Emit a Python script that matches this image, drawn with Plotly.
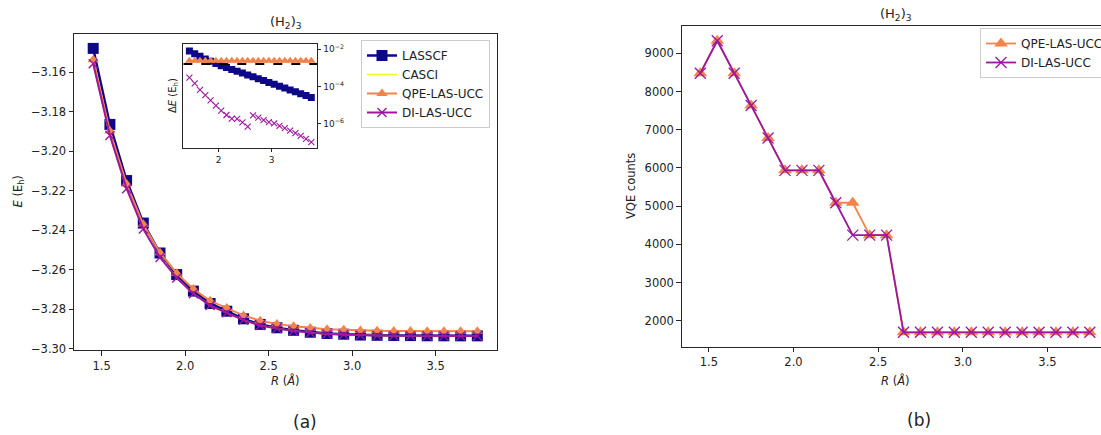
import numpy as np
import plotly.graph_objects as go

W, H = 1101, 435

# ---------------- data ----------------
R = [1.45, 1.55, 1.65, 1.75, 1.85, 1.95, 2.05, 2.15, 2.25, 2.35, 2.45, 2.55,
     2.65, 2.75, 2.85, 2.95, 3.05, 3.15, 3.25, 3.35, 3.45, 3.55, 3.65, 3.75]

E_CASCI = [-3.1559, -3.1921, -3.2190, -3.2394, -3.2538, -3.2642, -3.2722, -3.2782,
           -3.2819, -3.2856, -3.2883, -3.2899, -3.2911, -3.2920, -3.2926, -3.2929,
           -3.2933, -3.2934, -3.2935, -3.2935, -3.2936, -3.2936, -3.2936, -3.2936]

# energy errors w.r.t. CASCI (Eh)
dE_LASSCF = [8.1e-3, 5.75e-3, 4.17e-3, 3.02e-3, 2.24e-3, 1.70e-3, 1.32e-3, 1.05e-3,
             8.3e-4, 6.6e-4, 5.25e-4, 4.17e-4, 3.31e-4, 2.63e-4, 2.09e-4, 1.66e-4,
             1.32e-4, 1.05e-4, 8.3e-5, 6.6e-5, 5.25e-5, 4.17e-5, 3.31e-5, 2.63e-5]
dE_QPE = [2.4e-3, 2.4e-3, 2.4e-3, 2.4e-3, 2.4e-3, 2.4e-3, 2.4e-3, 2.4e-3,
          2.4e-3, 2.4e-3, 2.4e-3, 2.4e-3, 2.4e-3, 2.4e-3, 2.4e-3, 2.4e-3,
          2.4e-3, 2.4e-3, 2.4e-3, 2.4e-3, 2.4e-3, 2.4e-3, 2.4e-3, 2.4e-3]
dE_DI = [3.0e-4, 1.5e-4, 6.6e-5, 3.5e-5, 1.8e-5, 9.5e-6, 5.1e-6, 3.0e-6,
         1.9e-6, 1.85e-6, 1.2e-6, 7.1e-7, 2.9e-6, 2.2e-6, 1.6e-6, 1.26e-6,
         1.07e-6, 7.8e-7, 5.9e-7, 4.4e-7, 3.2e-7, 2.3e-7, 1.6e-7, 1.05e-7]
CHEM_ACC = 1.6e-3

VQE_QPE = [8480, 9328, 8480, 7632, 6784, 5936, 5936, 5936, 5088, 5088, 4240, 4240,
           1696, 1696, 1696, 1696, 1696, 1696, 1696, 1696, 1696, 1696, 1696, 1696]
VQE_DI = [8480, 9328, 8480, 7632, 6784, 5936, 5936, 5936, 5088, 4240, 4240, 4240,
          1696, 1696, 1696, 1696, 1696, 1696, 1696, 1696, 1696, 1696, 1696, 1696]

E_LASSCF = (np.array(E_CASCI) + np.array(dE_LASSCF)).tolist()
E_QPE = (np.array(E_CASCI) + np.array(dE_QPE)).tolist()
E_DI = (np.array(E_CASCI) + np.array(dE_DI)).tolist()

# ---------------- style ----------------
C_LAS = "#0d0887"
C_CAS = "#f0f921"
C_QPE = "#f2844b"
C_DI = "#9c179e"
FONT = "DejaVu Sans"
AX = "#262626"

def px(x):
    return x / W

def py(y):
    return 1 - y / H

X_MAIN = [1.335, 3.865]

fig = go.Figure()

# ---- main left panel ----
fig.add_trace(go.Scatter(x=R, y=E_LASSCF, name="LASSCF", mode="lines+markers",
                         line=dict(color=C_LAS, width=2.5),
                         marker=dict(symbol="square", size=11, color=C_LAS),
                         xaxis="x", yaxis="y", legend="legend", cliponaxis=False))
fig.add_trace(go.Scatter(x=R, y=E_CASCI, name="CASCI", mode="lines",
                         line=dict(color=C_CAS, width=1.5),
                         xaxis="x", yaxis="y", legend="legend"))
fig.add_trace(go.Scatter(x=R, y=E_QPE, name="QPE-LAS-UCC", mode="lines+markers",
                         line=dict(color=C_QPE, width=2),
                         marker=dict(symbol="triangle-up", size=10, color=C_QPE),
                         xaxis="x", yaxis="y", legend="legend", cliponaxis=False))
fig.add_trace(go.Scatter(x=R, y=E_DI, name="DI-LAS-UCC", mode="lines+markers",
                         line=dict(color=C_DI, width=2),
                         marker=dict(symbol="x-thin", size=9, color=C_DI,
                                     line=dict(color=C_DI, width=1.4)),
                         xaxis="x", yaxis="y", legend="legend", cliponaxis=False))

# ---- inset ----
fig.add_trace(go.Scatter(x=R, y=dE_LASSCF, mode="markers", showlegend=False,
                         marker=dict(symbol="square", size=7, color=C_LAS),
                         xaxis="x2", yaxis="y2"))
fig.add_trace(go.Scatter(x=R, y=dE_QPE, mode="markers", showlegend=False,
                         marker=dict(symbol="triangle-up", size=8, color=C_QPE),
                         xaxis="x2", yaxis="y2"))
fig.add_trace(go.Scatter(x=X_MAIN, y=[CHEM_ACC, CHEM_ACC], mode="lines", showlegend=False,
                         line=dict(color="black", width=2, dash="dash"),
                         xaxis="x2", yaxis="y2"))
fig.add_trace(go.Scatter(x=R, y=dE_DI, mode="markers", showlegend=False,
                         marker=dict(symbol="x-thin", size=6, color=C_DI,
                                     line=dict(color=C_DI, width=1.1)),
                         xaxis="x2", yaxis="y2"))

# ---- right panel ----
fig.add_trace(go.Scatter(x=R, y=VQE_QPE, name="QPE-LAS-UCC", mode="lines+markers",
                         line=dict(color=C_QPE, width=1.8),
                         marker=dict(symbol="triangle-up", size=12, color=C_QPE),
                         xaxis="x3", yaxis="y3", legend="legend2", cliponaxis=False))
fig.add_trace(go.Scatter(x=R, y=VQE_DI, name="DI-LAS-UCC", mode="lines+markers",
                         line=dict(color=C_DI, width=1.8),
                         marker=dict(symbol="x-thin", size=11, color=C_DI,
                                     line=dict(color=C_DI, width=1.3)),
                         xaxis="x3", yaxis="y3", legend="legend2", cliponaxis=False))

tick_font = dict(family=FONT, size=11.5, color="#222")
common = dict(showgrid=False, zeroline=False, showline=True, linecolor=AX, linewidth=1,
              ticks="outside", ticklen=4.5, tickwidth=1, tickcolor=AX, tickfont=tick_font)
inset_font = dict(family=FONT, size=9, color="#222")

legend_style = dict(bgcolor="rgba(255,255,255,0.85)", bordercolor="#cccccc", borderwidth=1,
                    font=dict(family=FONT, size=12, color="#222"),
                    yanchor="top", itemwidth=30, tracegroupgap=0)

fig.update_layout(
    width=W, height=H, autosize=False,
    margin=dict(l=0, r=0, t=0, b=0, pad=0, autoexpand=False),
    paper_bgcolor="white", plot_bgcolor="white",
    font=dict(family=FONT, color="#222"),
    hovermode=False,
    xaxis=dict(domain=[px(74), px(496.5)], range=X_MAIN, anchor="y", mirror=True,
               tickvals=[1.5, 2.0, 2.5, 3.0, 3.5], tickformat=".1f", **common),
    yaxis=dict(domain=[py(350.3), py(34)], range=[-3.3009, -3.1405], anchor="x", mirror=True,
               tickvals=[-3.30, -3.28, -3.26, -3.24, -3.22, -3.20, -3.18, -3.16],
               tickformat=".2f", **common),
    xaxis2=dict(domain=[px(183.3), px(317.4)], range=X_MAIN, anchor="y2", mirror=True,
                tickvals=[2, 3], showgrid=False, zeroline=False, showline=True,
                linecolor=AX, linewidth=1, ticks="outside", ticklen=3, tickwidth=1,
                tickcolor=AX, tickfont=inset_font),
    yaxis2=dict(domain=[py(148), py(44)], type="log", range=[-7.29, -1.72], anchor="x2",
                side="right", mirror=True,
                tickvals=[1e-2, 1e-4, 1e-6],
                ticktext=["10<sup>−2</sup>", "10<sup>−4</sup>", "10<sup>−6</sup>"],
                showgrid=False, zeroline=False, showline=True, linecolor=AX, linewidth=1,
                ticks="outside", ticklen=3, tickwidth=1, tickcolor=AX,
                tickfont=inset_font),
    xaxis3=dict(domain=[px(681.7), 1.0], range=[1.34, 3.816], anchor="y3", mirror=True,
                tickvals=[1.5, 2.0, 2.5, 3.0, 3.5], tickformat=".1f", **common),
    yaxis3=dict(domain=[py(346.7), py(26)], range=[1319, 9715], anchor="x3", mirror=False,
                tickvals=[2000, 3000, 4000, 5000, 6000, 7000, 8000, 9000], tickformat="d",
                **common),
    legend=dict(x=px(490), y=py(40), xanchor="right", **legend_style),
    legend2=dict(x=px(980), y=py(28), xanchor="left", **legend_style),
)

ann_font = dict(family=FONT, size=13, color="#222")
lab_font = dict(family=FONT, size=11.5, color="#222")
annotations = [
    dict(text="(H<sub>2</sub>)<sub>3</sub>", x=px(285.9), y=py(22.7), font=ann_font),
    dict(text="(H<sub>2</sub>)<sub>3</sub>", x=px(895.8), y=py(15), font=ann_font),
    dict(text="<i>E</i> (E<sub>h</sub>)", x=px(17.5), y=py(192), textangle=-90, font=lab_font),
    dict(text="<i>R</i> (<i>Å</i>)", x=px(285), y=py(380), font=lab_font),
    dict(text="Δ<i>E</i> (E<sub>h</sub>)", x=px(173), y=py(96), textangle=-90,
         font=dict(family=FONT, size=10, color="#222")),
    dict(text="VQE counts", x=px(631), y=py(186), textangle=-90, font=lab_font),
    dict(text="<i>R</i> (<i>Å</i>)", x=px(895), y=py(380), font=lab_font),
    dict(text="(a)", x=px(305), y=py(422), font=dict(family=FONT, size=17, color="#222")),
    dict(text="(b)", x=px(918.8), y=py(420), font=dict(family=FONT, size=17, color="#222")),
]
for a in annotations:
    a.update(xref="paper", yref="paper", showarrow=False, xanchor="center", yanchor="middle")
fig.update_layout(annotations=annotations)

# remove the default 8 px page margin so the figure fills the window exactly
fig.write_html("out.html", config={"displayModeBar": False, "staticPlot": True},
               post_script="document.body.style.margin='0px';document.body.style.overflow='hidden';")
